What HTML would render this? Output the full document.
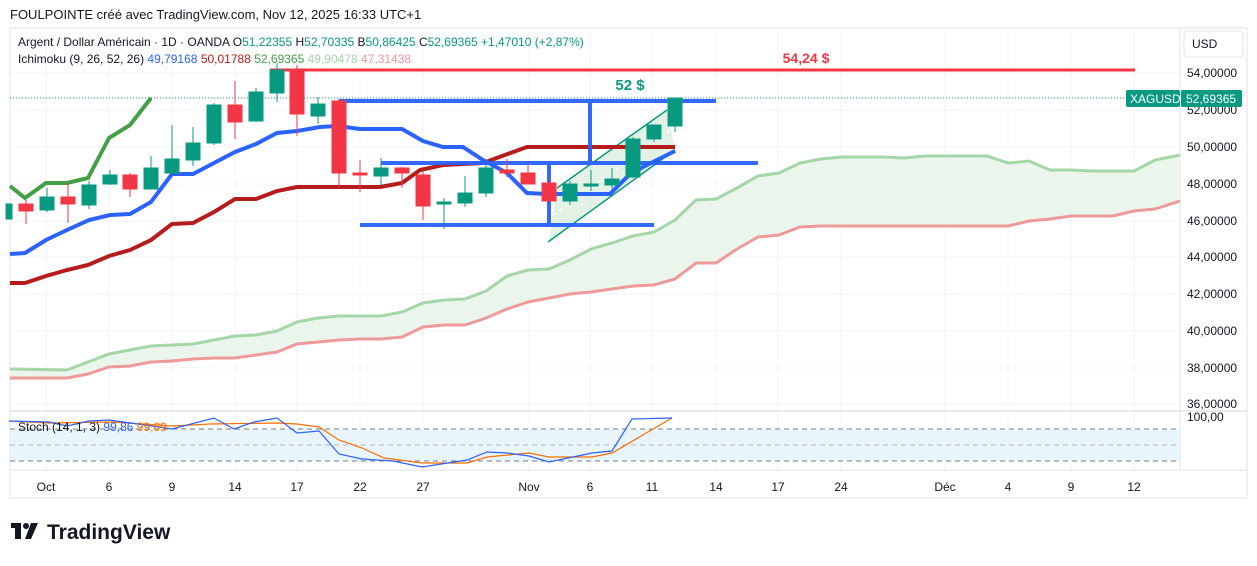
<!DOCTYPE html>
<html><head><meta charset="utf-8"><style>
body{margin:0;background:#fff;width:1257px;height:561px;overflow:hidden;font-family:"Liberation Sans",sans-serif}
svg text{font-family:"Liberation Sans",sans-serif}
</style></head><body>
<svg width="1257" height="561" xmlns="http://www.w3.org/2000/svg">
<rect width="1257" height="561" fill="#fff"/>
<text x="10" y="19" font-size="13" fill="#131722">FOULPOINTE créé avec TradingView.com, Nov 12, 2025 16:33 UTC+1</text>
<rect x="10" y="28" width="1237" height="470" fill="none" stroke="#e0e3eb"/>
<g stroke="#f0f3fa" stroke-width="1">
<line x1="46" y1="28" x2="46" y2="470"/><line x1="109" y1="28" x2="109" y2="470"/><line x1="172" y1="28" x2="172" y2="470"/><line x1="235" y1="28" x2="235" y2="470"/><line x1="297" y1="28" x2="297" y2="470"/><line x1="360" y1="28" x2="360" y2="470"/><line x1="423" y1="28" x2="423" y2="470"/><line x1="529" y1="28" x2="529" y2="470"/><line x1="590" y1="28" x2="590" y2="470"/><line x1="652" y1="28" x2="652" y2="470"/><line x1="716" y1="28" x2="716" y2="470"/><line x1="778" y1="28" x2="778" y2="470"/><line x1="841" y1="28" x2="841" y2="470"/><line x1="945" y1="28" x2="945" y2="470"/><line x1="1008" y1="28" x2="1008" y2="470"/><line x1="1071" y1="28" x2="1071" y2="470"/><line x1="1134" y1="28" x2="1134" y2="470"/>
<line x1="10" y1="73" x2="1180" y2="73"/><line x1="10" y1="110" x2="1180" y2="110"/><line x1="10" y1="147" x2="1180" y2="147"/><line x1="10" y1="184" x2="1180" y2="184"/><line x1="10" y1="221" x2="1180" y2="221"/><line x1="10" y1="257" x2="1180" y2="257"/><line x1="10" y1="294" x2="1180" y2="294"/><line x1="10" y1="331" x2="1180" y2="331"/><line x1="10" y1="368" x2="1180" y2="368"/><line x1="10" y1="404" x2="1180" y2="404"/>
</g>
<line x1="10" y1="411" x2="1247" y2="411" stroke="#d1d4dc"/>
<line x1="1180" y1="28" x2="1180" y2="470" stroke="#e0e3eb"/>
<polygon fill="#e8f5e9" opacity="0.9" points="10,369 67,370 88,362 109,354 130,350 151,346 172,345 193,344 214,340 235,336 256,335 277,331 297,322 318,318 339,316 360,316 381,316 402,312 423,303 444,300 465,299 486,291 507,276 528,270 549,269 570,260 591,249 612,243 633,236 654,232 675,220 696,200 716,199 737,188 758,176 779,173 800,163 821,159 841,157 862,157 883,157 904,158 925,156 946,156 966,156 987,156 1008,163 1029,161 1050,170 1071,170 1092,171 1113,171 1134,171 1155,160 1180,155 1180,201 1155,209 1134,211 1113,216 1071,216 1050,219 1029,221 1008,226 821,226 800,227 779,235 758,237 737,249 716,263 696,263 675,279 654,285 633,286 612,289 591,292 570,294 549,298 528,302 507,309 486,318 465,325 444,325 423,327 402,337 381,339 360,339 339,340 318,342 297,344 277,352 256,355 235,358 214,358 193,359 172,361 151,362 130,366 109,367 88,374 67,378 10,378"/>
<polyline fill="none" stroke="#a5d6a7" stroke-width="3" points="10,369 67,370 88,362 109,354 130,350 151,346 172,345 193,344 214,340 235,336 256,335 277,331 297,322 318,318 339,316 360,316 381,316 402,312 423,303 444,300 465,299 486,291 507,276 528,270 549,269 570,260 591,249 612,243 633,236 654,232 675,220 696,200 716,199 737,188 758,176 779,173 800,163 821,159 841,157 862,157 883,157 904,158 925,156 946,156 966,156 987,156 1008,163 1029,161 1050,170 1071,170 1092,171 1113,171 1134,171 1155,160 1180,155"/>
<polyline fill="none" stroke="#ef9a9a" stroke-width="3" points="10,378 67,378 88,374 109,367 130,366 151,362 172,361 193,359 214,358 235,358 256,355 277,352 297,344 318,342 339,340 360,339 381,339 402,337 423,327 444,325 465,325 486,318 507,309 528,302 549,298 570,294 591,292 612,289 633,286 654,285 675,279 696,263 716,263 737,249 758,237 779,235 800,227 821,226 1008,226 1029,221 1050,219 1071,216 1113,216 1134,211 1155,209 1180,201"/>
<polygon fill="#c8e6c9" opacity="0.5" points="549,241 557,188 667,110 675,150"/>
<line x1="557" y1="188" x2="667" y2="110" stroke="#089981" stroke-width="1.5"/>
<line x1="548" y1="242" x2="675" y2="150" stroke="#089981" stroke-width="1.5"/>
<line x1="553" y1="215" x2="671" y2="130" stroke="#fff" stroke-width="1" stroke-dasharray="4 3"/>
<polyline fill="none" stroke="#b71c1c" stroke-width="4" points="10,283 25,283 46,276 67,270 88,265 109,256 130,250 151,240 172,224 193,223 214,212 235,199 256,199 277,191 297,187 339,187 380,187 402,183 420,170 443,165 483,163 527,147 675,147"/>
<polyline fill="none" stroke="#2962ff" stroke-width="4" points="10,254 25,253 46,240 67,230 89,220 110,215 130,214 151,202 172,174 193,174 214,163 235,152 256,144 277,133 297,131 320,127 337,126 360,129 402,129 423,141 443,147 463,147 483,160 507,173 527,193 547,194 610,194 627,177 643,167 675,151"/>
<polyline fill="none" stroke="#43a047" stroke-width="4" points="10,186 25,198 46,183 67,183 88,178 109,138 130,125 151,98"/>
<line x1="270" y1="70" x2="1135" y2="70" stroke="#f23645" stroke-width="3"/>
<text x="806" y="63" font-size="14" font-weight="bold" fill="#f23645" text-anchor="middle">54,24 $</text>
<text x="630" y="90" font-size="15" font-weight="bold" fill="#089981" text-anchor="middle">52 $</text>
<g stroke="#2962ff" stroke-width="4" opacity="0.95">
<line x1="339" y1="101" x2="716" y2="101"/><line x1="381" y1="163" x2="758" y2="163"/><line x1="360" y1="225" x2="654" y2="225"/>
<line x1="590" y1="101" x2="590" y2="163"/><line x1="549" y1="163" x2="549" y2="225"/>
</g>
<line x1="10" y1="98" x2="1128" y2="98" stroke="#089981" stroke-dasharray="1 2"/>
<g stroke-width="1">
<g stroke="#089981" fill="#089981">
<rect x="6" y="204" width="6" height="15"/>
<line x1="47" y1="188" x2="47" y2="212"/><rect x="40" y="197" width="14" height="13"/>
<line x1="89" y1="181" x2="89" y2="209"/><rect x="82" y="185" width="14" height="20"/>
<line x1="110" y1="170" x2="110" y2="185"/><rect x="103" y="175" width="14" height="9"/>
<line x1="151" y1="156" x2="151" y2="189"/><rect x="144" y="168" width="14" height="21"/>
<line x1="172" y1="125" x2="172" y2="173"/><rect x="165" y="159" width="14" height="14"/>
<line x1="193" y1="127" x2="193" y2="166"/><rect x="186" y="143" width="14" height="17"/>
<line x1="214" y1="103" x2="214" y2="145"/><rect x="207" y="105" width="14" height="38"/>
<line x1="256" y1="88" x2="256" y2="122"/><rect x="249" y="92" width="14" height="29"/>
<line x1="277" y1="63" x2="277" y2="102"/><rect x="270" y="70" width="14" height="23"/>
<line x1="318" y1="97" x2="318" y2="124"/><rect x="311" y="104" width="14" height="12"/>
<line x1="381" y1="158" x2="381" y2="185"/><rect x="374" y="168" width="14" height="8"/>
<line x1="444" y1="198" x2="444" y2="229"/><rect x="437" y="202" width="14" height="2"/>
<line x1="465" y1="176" x2="465" y2="207"/><rect x="458" y="193" width="14" height="10"/>
<line x1="486" y1="165" x2="486" y2="197"/><rect x="479" y="168" width="14" height="25"/>
<line x1="570" y1="181" x2="570" y2="205"/><rect x="563" y="184" width="14" height="17"/>
<line x1="591" y1="170" x2="591" y2="191"/><rect x="584" y="184" width="14" height="2"/>
<line x1="612" y1="168" x2="612" y2="189"/><rect x="605" y="179" width="14" height="6"/>
<line x1="633" y1="137" x2="633" y2="178"/><rect x="626" y="139" width="14" height="38"/>
<line x1="654" y1="125" x2="654" y2="142"/><rect x="647" y="125" width="14" height="14"/>
<line x1="675" y1="98" x2="675" y2="132"/><rect x="668" y="98" width="14" height="28"/>
</g>
<g stroke="#f23645" fill="#f23645">
<line x1="26" y1="200" x2="26" y2="224"/><rect x="19" y="204" width="14" height="7"/>
<line x1="68" y1="183" x2="68" y2="223"/><rect x="61" y="197" width="14" height="7"/>
<line x1="130" y1="173" x2="130" y2="197"/><rect x="123" y="175" width="14" height="14"/>
<line x1="235" y1="81" x2="235" y2="139"/><rect x="228" y="105" width="14" height="17"/>
<line x1="297" y1="65" x2="297" y2="136"/><rect x="290" y="70" width="14" height="44"/>
<line x1="339" y1="99" x2="339" y2="187"/><rect x="332" y="101" width="14" height="72"/>
<line x1="360" y1="160" x2="360" y2="192"/><rect x="353" y="173" width="14" height="2"/>
<line x1="402" y1="167" x2="402" y2="188"/><rect x="395" y="168" width="14" height="5"/>
<line x1="423" y1="171" x2="423" y2="220"/><rect x="416" y="175" width="14" height="31"/>
<line x1="507" y1="159" x2="507" y2="177"/><rect x="500" y="170" width="14" height="3"/>
<line x1="528" y1="164" x2="528" y2="184"/><rect x="521" y="173" width="14" height="11"/>
<line x1="549" y1="180" x2="549" y2="201"/><rect x="542" y="183" width="14" height="18"/>
</g></g>
<text x="18" y="46" font-size="12" fill="#131722">Argent / Dollar Américain · 1D · OANDA  O<tspan fill="#089981">51,22355</tspan>  H<tspan fill="#089981">52,70335</tspan>  B<tspan fill="#089981">50,86425</tspan>  C<tspan fill="#089981">52,69365  +1,47010 (+2,87%)</tspan></text>
<text x="18" y="63" font-size="12" fill="#131722">Ichimoku (9, 26, 52, 26)  <tspan fill="#2962ff">49,79168</tspan>  <tspan fill="#b71c1c">50,01788</tspan>  <tspan fill="#43a047">52,69365</tspan>  <tspan fill="#a5d6a7">49,90478</tspan>  <tspan fill="#ef9a9a">47,31438</tspan></text>
<rect x="1184" y="31" width="59" height="26" rx="4" fill="#fff" stroke="#e0e3eb"/>
<text x="1192" y="48" font-size="12" fill="#131722">USD</text>
<g font-size="12" fill="#131722">
<text x="1187" y="77">54,00000</text><text x="1187" y="114">52,00000</text><text x="1187" y="151">50,00000</text><text x="1187" y="188">48,00000</text><text x="1187" y="225">46,00000</text><text x="1187" y="261">44,00000</text><text x="1187" y="298">42,00000</text><text x="1187" y="335">40,00000</text><text x="1187" y="372">38,00000</text><text x="1187" y="408">36,00000</text><text x="1187" y="421">100,00</text>
</g>
<rect x="1126" y="90" width="54" height="17" rx="2" fill="#089981"/>
<text x="1130" y="103" font-size="12" fill="#fff">XAGUSD</text>
<rect x="1181" y="90" width="61" height="17" rx="2" fill="#089981"/>
<text x="1186" y="103" font-size="12" fill="#fff">52,69365</text>
<rect x="10" y="429" width="1170" height="32" fill="#e3f2fd" opacity="0.8"/>
<g stroke="#787b86" stroke-dasharray="5 4"><line x1="10" y1="429" x2="1180" y2="429"/><line x1="10" y1="461" x2="1180" y2="461"/></g>
<line x1="10" y1="445" x2="1180" y2="445" stroke="#b2b5be" stroke-dasharray="5 4"/>
<polyline fill="none" stroke="#ff6d00" stroke-width="1.2" points="9,421 49,423 112,422 172,426 210,424 277,423 297,424 319,427 339,440 362,448 384,458 422,463 467,463 487,457 529,453 549,457 592,457 612,453 672,418"/>
<polyline fill="none" stroke="#2962ff" stroke-width="1.2" points="9,421 49,422 67,426 89,421 109,420 138,424 172,429 214,418 234,429 254,422 277,418 297,433 319,431 339,454 362,459 393,461 422,467 467,460 487,452 507,453 529,456 549,462 592,453 612,451 632,419 672,418"/>
<text x="18" y="431" font-size="12" fill="#131722">Stoch (14, 1, 3)  <tspan fill="#2962ff">99,86</tspan>  <tspan fill="#ff6d00">99,09</tspan></text>
<line x1="10" y1="470" x2="1247" y2="470" stroke="#e0e3eb"/>
<g font-size="12" fill="#131722" text-anchor="middle">
<text x="46" y="491">Oct</text><text x="109" y="491">6</text><text x="172" y="491">9</text><text x="235" y="491">14</text><text x="297" y="491">17</text><text x="360" y="491">22</text><text x="423" y="491">27</text><text x="529" y="491">Nov</text><text x="590" y="491">6</text><text x="652" y="491">11</text><text x="716" y="491">14</text><text x="778" y="491">17</text><text x="841" y="491">24</text><text x="945" y="491">Déc</text><text x="1008" y="491">4</text><text x="1071" y="491">9</text><text x="1134" y="491">12</text>
</g>
<g fill="#131722">
<rect x="11" y="523" width="10" height="5"/><rect x="15" y="523" width="6" height="16"/>
<circle cx="26" cy="526" r="3"/><polygon points="31,523 38,523 31,539 25,539"/>
</g>
<text x="47" y="539" font-size="21" font-weight="bold" fill="#131722">TradingView</text>
</svg>
</body></html>
